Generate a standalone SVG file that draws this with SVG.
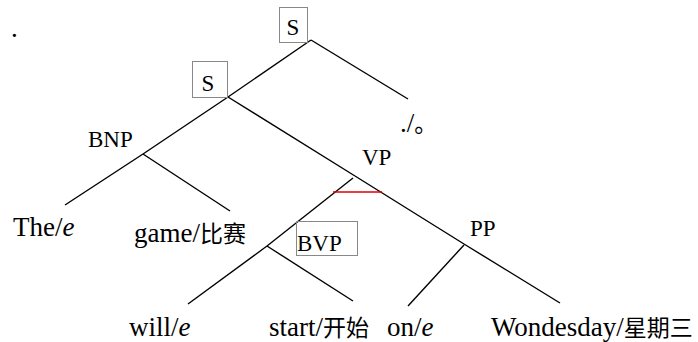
<svg xmlns="http://www.w3.org/2000/svg" width="698" height="342" viewBox="0 0 698 342">
  <style>
    text { font-family: 'Liberation Serif', 'DejaVu Serif', serif; fill: #000; }
    .lbl { font-size: 23px; }
    .leaf { font-size: 27px; }
    .cjk { font-family: 'Noto Sans CJK SC', sans-serif; font-size: 23px; }
    .box { fill: none; stroke: #888; stroke-width: 1; }
    .edge { stroke: #000; stroke-width: 1.4; fill: none; stroke-linecap: butt; }
    .mark { stroke: #e00000; stroke-width: 1.6; fill: none; }
  </style>
  <rect width="698" height="342" fill="#fff"/>

  <!-- stray full stop in the corner -->
  <text class="leaf" x="11" y="37" font-family="Liberation Serif, serif">.</text>

  <!-- tree branches -->
  <g id="connectors">
    <line class="edge" x1="311" y1="40" x2="228" y2="97"/>
    <line class="edge" x1="311" y1="40" x2="408" y2="99"/>
    <line class="edge" x1="228" y1="97" x2="143" y2="154"/>
    <line class="edge" x1="143" y1="154" x2="65" y2="205"/>
    <line class="edge" x1="143" y1="154" x2="230" y2="211"/>
    <line class="edge" x1="228" y1="97" x2="355" y2="176"/>
    <line class="edge" x1="355" y1="176" x2="464" y2="244"/>
    <line class="edge" x1="464" y1="244" x2="560" y2="303"/>
    <line class="edge" x1="353" y1="178" x2="267" y2="246"/>
    <line class="edge" x1="267" y1="246" x2="188" y2="304"/>
    <line class="edge" x1="267" y1="246" x2="353" y2="301"/>
    <line class="edge" x1="464" y1="245" x2="408" y2="306"/>
    <line class="mark" x1="333" y1="192" x2="382" y2="192"/>
  </g>

  <!-- phrase nodes -->
  <g id="node-s-top">
    <rect class="box" x="279.5" y="7.5" width="28" height="35"/>
    <text class="lbl" x="293" y="35" text-anchor="middle" font-family="Liberation Serif, serif">S</text>
  </g>
  <g id="node-s">
    <rect class="box" x="192.5" y="61.5" width="35" height="36"/>
    <text class="lbl" x="208" y="91" text-anchor="middle" font-family="Liberation Serif, serif">S</text>
  </g>
  <g id="node-bnp">
    <text class="lbl" x="88" y="147" font-family="Liberation Serif, serif">BNP</text>
  </g>
  <g id="node-vp">
    <text class="lbl" x="362" y="165" font-family="Liberation Serif, serif">VP</text>
  </g>
  <g id="node-pp">
    <text class="lbl" x="470" y="236" font-family="Liberation Serif, serif">PP</text>
  </g>
  <g id="node-bvp">
    <rect class="box" x="296.5" y="221.5" width="61" height="34"/>
    <text class="lbl" x="297" y="251" font-family="Liberation Serif, serif">BVP</text>
  </g>

  <!-- word leaves -->
  <g id="leaf-period">
    <text class="leaf" x="400" y="132" font-family="Liberation Serif, serif">./<tspan class="cjk">。</tspan></text>
  </g>
  <g id="leaf-the">
    <text class="leaf" x="13" y="236" font-family="Liberation Serif, serif">The/<tspan font-style="italic">e</tspan></text>
  </g>
  <g id="leaf-game">
    <text class="leaf" x="134" y="242" font-family="Liberation Serif, serif">game/<tspan class="cjk">比赛</tspan></text>
  </g>
  <g id="leaf-will">
    <text class="leaf" x="129" y="336" font-family="Liberation Serif, serif">will/<tspan font-style="italic">e</tspan></text>
  </g>
  <g id="leaf-start">
    <text class="leaf" x="269" y="336" font-family="Liberation Serif, serif">start/<tspan class="cjk">开始</tspan></text>
  </g>
  <g id="leaf-on">
    <text class="leaf" x="387" y="336" font-family="Liberation Serif, serif">on/<tspan font-style="italic">e</tspan></text>
  </g>
  <g id="leaf-wondesday">
    <text class="leaf" x="491" y="336" font-family="Liberation Serif, serif">Wondesday/<tspan class="cjk">星期三</tspan></text>
  </g>
</svg>
